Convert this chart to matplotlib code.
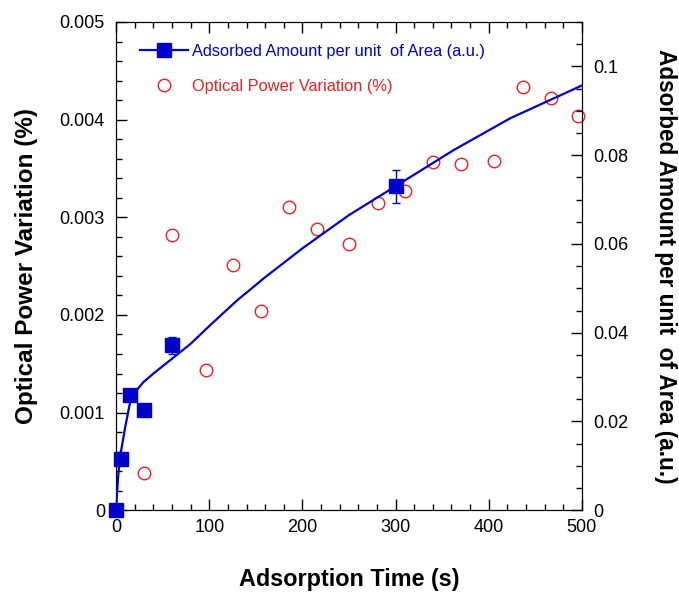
import matplotlib
matplotlib.use("Agg")
import matplotlib.pyplot as plt
from matplotlib.ticker import MultipleLocator, FuncFormatter

plt.rcParams['font.family'] = ['Liberation Sans', 'DejaVu Sans']

# Adsorbed amount (right axis) - measured points
ads_t = [0, 5, 15, 30, 60, 300]
ads_v = [0.0, 0.0115, 0.0260, 0.0225, 0.0372, 0.0730]
ads_err = [0, 0, 0, 0, 0.0019, 0.0037]

# Fitted curve (right axis)
fit_t = [0, 1, 2, 3, 5, 7.5, 10, 15, 20, 29, 40, 58, 80, 100, 130, 160, 200,
         250, 300, 362, 423, 500]
fit_v = [0.0, 0.0040, 0.0070, 0.0095, 0.0130, 0.0160, 0.0190, 0.0243, 0.0265,
         0.0288, 0.0308, 0.0338, 0.0375, 0.0415, 0.0473, 0.0525, 0.0590,
         0.0665, 0.0730, 0.0811, 0.0883, 0.0957]

# Optical power variation (left axis)
opt_t = [30, 60, 96, 126, 156, 186, 216, 250, 281, 310, 340, 370, 406, 437, 467, 496]
opt_v = [0.00038, 0.00282, 0.00144, 0.00251, 0.00204, 0.00311, 0.00288, 0.00273,
         0.00315, 0.00327, 0.00357, 0.00355, 0.00358, 0.00433, 0.00422, 0.00404]

blue = '#0000CC'
red = '#EE2020'

fig = plt.figure(figsize=(6.79, 5.94), dpi=100)
ax = fig.add_axes([0.171, 0.141, 0.686, 0.822])
ax2 = ax.twinx()

ax.set_xlim(0, 500)
ax.set_ylim(0, 0.005)
ax2.set_ylim(0, 0.11)

h_opt, = ax.plot(opt_t, opt_v, 'o', mfc='none', mec=red, ms=9, mew=1.0,
                 clip_on=False, zorder=3)

ax2.plot(fit_t, fit_v, '-', color=blue, lw=1.6, zorder=3)
ax2.errorbar(ads_t, ads_v, yerr=ads_err, fmt='none', ecolor=blue, elinewidth=1.0,
             capsize=3, capthick=1.0, zorder=3)
ax2.plot(ads_t, ads_v, 's', color=blue, ms=10, clip_on=False, zorder=4)
h_ads, = ax2.plot([], [], '-s', color=blue, ms=10, lw=1.6)

# ticks
ax.xaxis.set_major_locator(MultipleLocator(100))
ax.xaxis.set_minor_locator(MultipleLocator(20))
ax.yaxis.set_major_locator(MultipleLocator(0.001))
ax.yaxis.set_minor_locator(MultipleLocator(0.0002))
ax2.yaxis.set_major_locator(MultipleLocator(0.02))
ax2.yaxis.set_minor_locator(MultipleLocator(0.005))

def fmt(v, pos):
    if abs(v) < 1e-12:
        return '0'
    s = ('%.4f' % v).rstrip('0').rstrip('.')
    return s

ax.yaxis.set_major_formatter(FuncFormatter(fmt))
ax2.yaxis.set_major_formatter(FuncFormatter(fmt))

ax.tick_params(axis='x', which='both', direction='in', top=True, labelsize=13, pad=6)
ax.tick_params(axis='y', which='both', direction='in', right=False, labelsize=13, pad=8)
ax.tick_params(which='major', length=8, width=1)
ax.tick_params(which='minor', length=4, width=1)
ax2.tick_params(axis='y', which='both', direction='in', labelsize=13, pad=8)
ax2.tick_params(which='major', length=8, width=1)
ax2.tick_params(which='minor', length=4, width=1)

ax.set_xlabel('Adsorption Time (s)', fontsize=16.8, fontweight='bold', labelpad=23)
ax.set_ylabel('Optical Power Variation (%)', fontsize=17.5, fontweight='bold', labelpad=16)
ax2.set_ylabel('Adsorbed Amount per unit  of Area (a.u.)', fontsize=16.3,
               fontweight='bold', rotation=270, labelpad=35)

leg = ax.legend([h_ads, h_opt],
                ['Adsorbed Amount per unit  of Area (a.u.)', 'Optical Power Variation (%)'],
                loc='upper left', bbox_to_anchor=(0.0, 1.004), frameon=False,
                fontsize=11.8, handlelength=2.9, handletextpad=0.3,
                labelspacing=1.2, borderaxespad=1.06)
for t, c in zip(leg.get_texts(), [blue, red]):
    t.set_color(c)

fig.savefig('out.png', dpi=100)
